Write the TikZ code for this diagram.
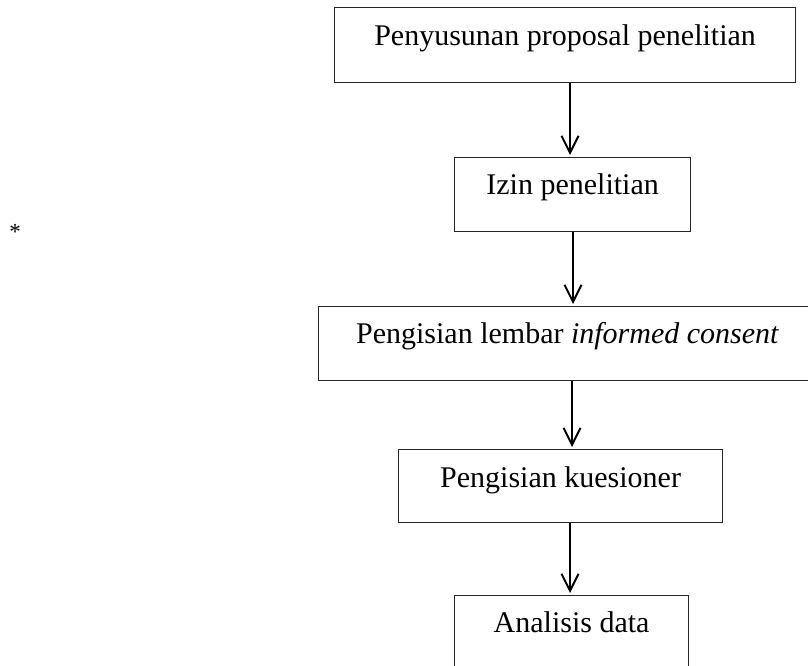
\documentclass[tikz,border=0pt]{standalone}
\usepackage{fontspec}
\setmainfont{Liberation Serif}
\usetikzlibrary{arrows.meta}
\begin{document}
\begin{tikzpicture}[x=1pt,y=-1pt,
  box/.style={draw=black!85, line width=1.2pt, rectangle, anchor=north west,
    inner xsep=0pt, inner ysep=0pt, font=\fontsize{30}{36}\selectfont, align=center},
  flow/.style={line width=2pt, -{Straight Barb[length=17pt,width=17pt,line width=2pt]}, shorten >=2pt}
]
\useasboundingbox (0,0) rectangle (808,666);
\clip (0,0) rectangle (808,666);
\node[box, minimum width=461pt, text height=38pt, text depth=37pt] (b1) at (334,7) {Penyusunan proposal penelitian};
\node[box, minimum width=236pt, text height=37pt, text depth=37pt] (b2) at (454,157) {Izin penelitian};
\node[box, minimum width=498pt, text height=37pt, text depth=37pt] (b3) at (318,306) {Pengisian lembar \textit{informed consent}};
\node[box, minimum width=324pt, text height=38pt, text depth=35pt] (b4) at (398,449) {Pengisian kuesioner};
\node[box, minimum width=234pt, text height=37pt, text depth=38pt] (b5) at (454,595) {Analisis data};
\node[anchor=base, inner sep=0pt, font=\fontsize{23}{25}\selectfont] (star) at (15,239) {*};
\coordinate (c1) at (570,0);
\coordinate (c2) at (573,0);
\coordinate (c3) at (572,0);
\coordinate (c4) at (570,0);
\draw[flow] (b1.south -| c1) -- (b2.north -| c1);
\draw[flow] (b2.south -| c2) -- (b3.north -| c2);
\draw[flow] (b3.south -| c3) -- (b4.north -| c3);
\draw[flow] (b4.south -| c4) -- (b5.north -| c4);
\end{tikzpicture}
\end{document}
